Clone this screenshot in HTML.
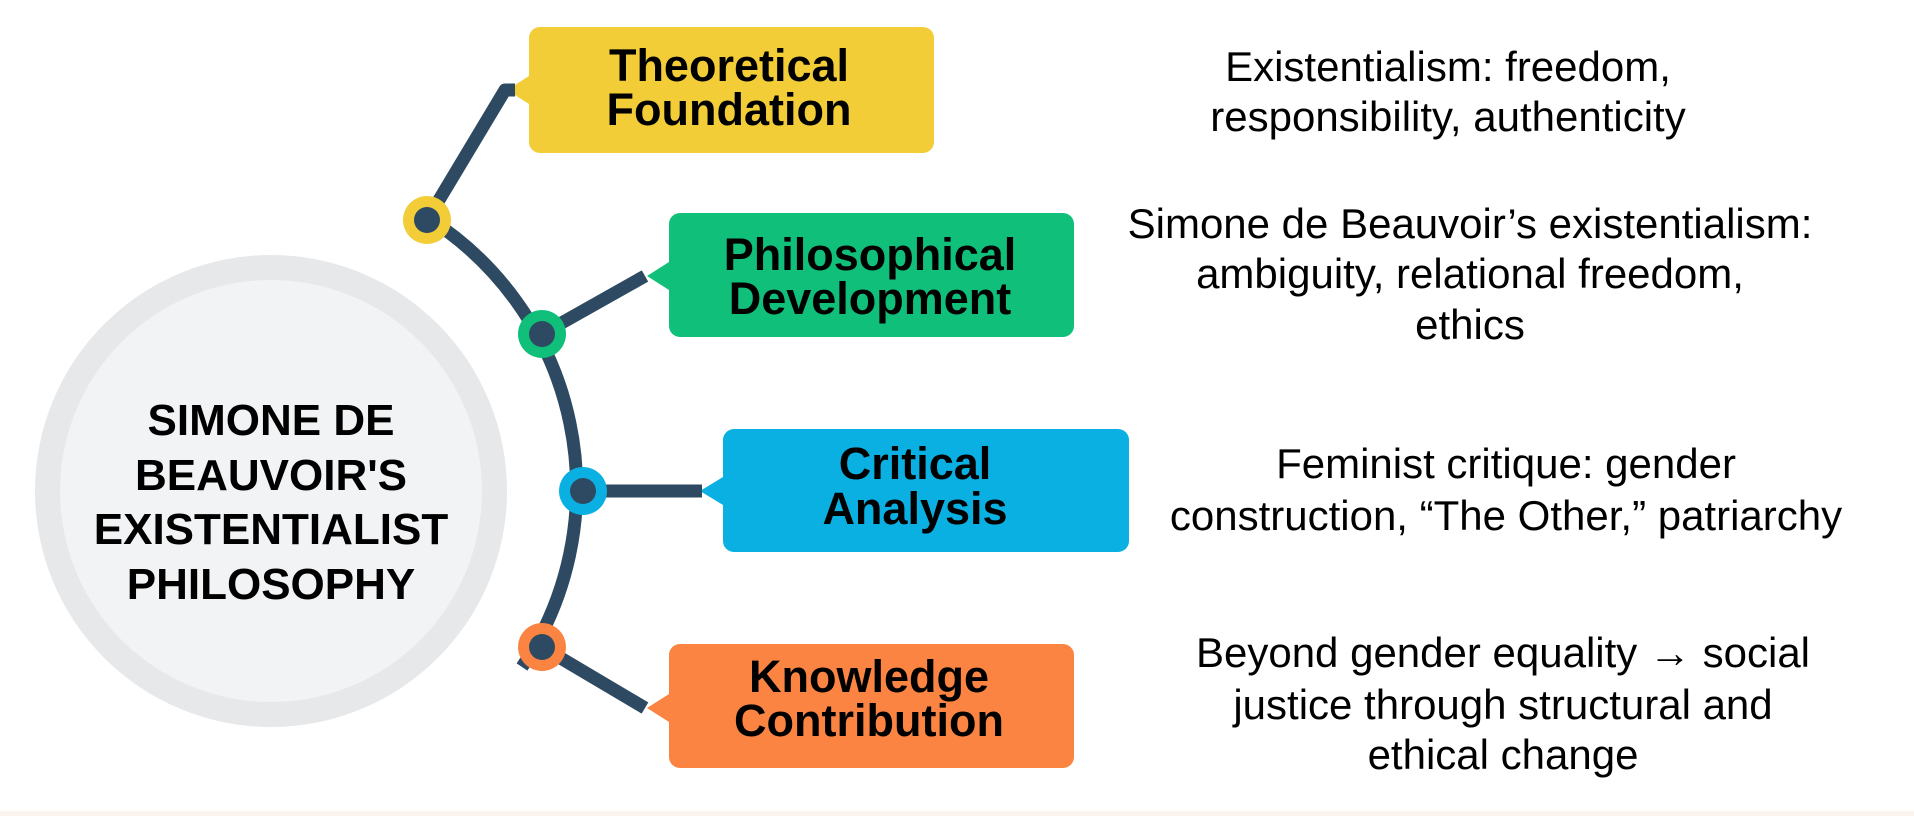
<!DOCTYPE html>
<html><head><meta charset="utf-8"><style>
html,body{margin:0;padding:0;background:#fff;}
svg{display:block;}
</style></head><body>
<svg width="1914" height="816" viewBox="0 0 1914 816" xmlns="http://www.w3.org/2000/svg">
<rect x="0" y="0" width="1914" height="816" fill="#ffffff"/>
<rect x="0" y="811" width="1914" height="5" fill="#fbf3ee"/>
<circle cx="271" cy="491" r="236" fill="#e7e8ea"/>
<circle cx="271" cy="491" r="211" fill="#f1f3f5"/>
<g font-family="Liberation Sans, sans-serif" font-weight="bold" font-size="44" fill="#000" text-anchor="middle">
<text x="271" y="435">SIMONE DE</text>
<text x="271" y="490">BEAUVOIR'S</text>
<text x="271" y="544">EXISTENTIALIST</text>
<text x="271" y="599">PHILOSOPHY</text>
</g>
<rect x="529" y="27" width="405" height="126" rx="11" fill="#f2cd37"/>
<polygon points="529,76 507,90 529,104" fill="#f2cd37"/>
<rect x="669" y="213" width="405" height="124" rx="11" fill="#10c07a"/>
<polygon points="669,262 647,276 669,290" fill="#10c07a"/>
<rect x="723" y="429" width="406" height="123" rx="11" fill="#0bb0e2"/>
<polygon points="723,477 700,491 723,505" fill="#0bb0e2"/>
<rect x="669" y="644" width="405" height="124" rx="11" fill="#fb8442"/>
<polygon points="669,694 647,708 669,722" fill="#fb8442"/>
<g stroke="#2e4a62" stroke-width="13" fill="none" stroke-linecap="butt" stroke-linejoin="round">
<path d="M428,218 A320,320 0 0 1 522,667"/>
<path d="M427,220 L505,90 L515,90"/>
<path d="M542,334 L645,276"/>
<path d="M583,491 L702,491"/>
<path d="M542,647 L645,708"/>
</g>
<circle cx="427" cy="220" r="24" fill="#f2cd37"/><circle cx="427" cy="220" r="13" fill="#2e4a62"/>
<circle cx="542" cy="334" r="24" fill="#10c07a"/><circle cx="542" cy="334" r="13" fill="#2e4a62"/>
<circle cx="583" cy="491" r="24" fill="#0bb0e2"/><circle cx="583" cy="491" r="13" fill="#2e4a62"/>
<circle cx="542" cy="647" r="24" fill="#fb8442"/><circle cx="542" cy="647" r="13" fill="#2e4a62"/>
<g font-family="Liberation Sans, sans-serif" font-weight="bold" font-size="45" fill="#000" text-anchor="middle">
<text x="729" y="81">Theoretical</text>
<text x="729" y="125">Foundation</text>
<text x="870" y="270">Philosophical</text>
<text x="870" y="314">Development</text>
<text x="915" y="479">Critical</text>
<text x="915" y="524">Analysis</text>
<text x="869" y="692">Knowledge</text>
<text x="869" y="736">Contribution</text>
</g>
<g font-family="Liberation Sans, sans-serif" font-size="42" fill="#000" text-anchor="middle">
<text x="1448" y="81">Existentialism: freedom,</text>
<text x="1448" y="131">responsibility, authenticity</text>
<text x="1470" y="238">Simone de Beauvoir’s existentialism:</text>
<text x="1470" y="288">ambiguity, relational freedom,</text>
<text x="1470" y="339">ethics</text>
<text x="1506" y="478">Feminist critique: gender</text>
<text x="1506" y="530">construction, “The Other,” patriarchy</text>
<text x="1503" y="667">Beyond gender equality → social</text>
<text x="1503" y="719">justice through structural and</text>
<text x="1503" y="769">ethical change</text>
</g>
</svg>
</body></html>
